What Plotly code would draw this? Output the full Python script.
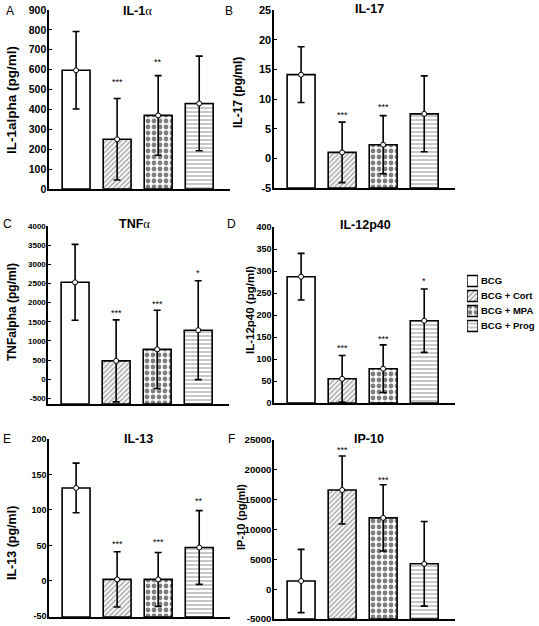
import plotly.graph_objects as go

W, H = 539, 626

# ---------------- data ----------------
categories = ["BCG", "BCG + Cort", "BCG + MPA", "BCG + Prog"]

il1a_mean = [597, 250, 370, 430]
il1a_sd = [195, 205, 200, 238]
il1a_stars = ["", "***", "**", ""]
il1a_star_y = [None, 548, 650, None]

il17_mean = [14.1, 1.0, 2.3, 7.5]
il17_sd = [4.7, 5.1, 4.9, 6.4]
il17_stars = ["", "***", "***", ""]
il17_star_y = [None, 7.7, 9.0, None]

tnfa_mean = [2530, 480, 780, 1280]
tnfa_sd = [990, 1070, 1020, 1290]
tnfa_stars = ["", "***", "***", "*"]
tnfa_star_y = [None, 1774, 2025, 2813]

il12_mean = [287, 55, 78, 187]
il12_sd = [53, 53, 54, 72]
il12_stars = ["", "***", "***", "*"]
il12_star_y = [None, 130, 151, 282]

il13_mean = [131, 2, 2, 47]
il13_sd = [35, 39, 38, 52]
il13_stars = ["", "***", "***", "**"]
il13_star_y = [None, 55, 58, 116]

ip10_mean = [1370, 16620, 11950, 4250]
ip10_sd = [5300, 5700, 5550, 7100]
ip10_stars = ["", "***", "***", ""]
ip10_star_y = [None, 23600, 18575, None]

il1a_ticks = list(range(0, 901, 100))
il17_ticks = list(range(-5, 26, 5))
tnfa_ticks = list(range(-500, 4001, 500))
il12_ticks = list(range(0, 401, 50))
il13_ticks = list(range(-50, 201, 50))
ip10_ticks = list(range(-5000, 25001, 5000))

titles = ["IL-1<span style='font-family:Liberation Serif;font-weight:normal'>α</span>", "IL-17",
          "TNF<span style='font-family:Liberation Serif;font-weight:normal'>α</span>", "IL-12p40", "IL-13", "IP-10"]
ytitles = ["IL-1alpha (pg/ml)", "IL-17 (pg/ml)", "TNFalpha (pg/ml)", "IL-12p40 (pg/ml)",
           "IL-13 (pg/ml)", "IP-10 (pg/ml)"]
letters = ["A", "B", "C", "D", "E", "F"]

FONT = "Liberation Sans, Arial, Helvetica, sans-serif"

# ---------------- layout (pixels) ----------------
panels = [
    dict(mean=il1a_mean, sd=il1a_sd, stars=il1a_stars, sy=il1a_star_y, tv=il1a_ticks,
         x0=49, x1=230, yt=10, yb=189, rng=[0, 900],
         tf=10.5, af=13.5, ax=12, ay=100, tx=137, ty=11, lx=10, ly=11),
    dict(mean=il17_mean, sd=il17_sd, stars=il17_stars, sy=il17_star_y, tv=il17_ticks,
         x0=274, x1=455, yt=10, yb=188, rng=[-5, 25],
         tf=11, af=12, ax=238, ay=93, tx=369, ty=9, lx=229, ly=11),
    dict(mean=tnfa_mean, sd=tnfa_sd, stars=tnfa_stars, sy=tnfa_star_y, tv=tnfa_ticks,
         x0=48, x1=229, yt=226, yb=404, rng=[-646, 4000],
         tf=8, af=12, ax=12, ay=312, tx=134, ty=224, lx=7, ly=224),
    dict(mean=il12_mean, sd=il12_sd, stars=il12_stars, sy=il12_star_y, tv=il12_ticks,
         x0=274, x1=455, yt=227, yb=403, rng=[0, 400],
         tf=9, af=11.5, ax=250, ay=310, tx=365, ty=225, lx=231, ly=224),
    dict(mean=il13_mean, sd=il13_sd, stars=il13_stars, sy=il13_star_y, tv=il13_ticks,
         x0=49, x1=230, yt=439, yb=617, rng=[-51, 200],
         tf=9, af=12.5, ax=12, ay=543, tx=138, ty=439, lx=7, ly=439),
    dict(mean=ip10_mean, sd=ip10_sd, stars=ip10_stars, sy=ip10_star_y, tv=ip10_ticks,
         x0=274, x1=455, yt=440, yb=619, rng=[-5000, 25000],
         tf=9.7, af=11, ax=241, ay=517, tx=369, ty=439, lx=231, ly=439),
]

bar_styles = [
    dict(color="white"),
    dict(color="white", pattern=dict(shape="/", fgcolor="#222222", bgcolor="white",
                                     size=3.5, solidity=0.35, fillmode="overlay")),
    dict(color="white", pattern=dict(shape=".", fgcolor="black", bgcolor="white",
                                     size=6, solidity=0.5, fillmode="overlay")),
    dict(color="white", pattern=dict(shape="-", fgcolor="#444444", bgcolor="white",
                                     size=4, solidity=0.3, fillmode="overlay")),
]


def px_x(p):
    return p / W


def px_y(p):
    return 1 - p / H


fig = go.Figure()
annotations = []
layout = dict(width=W, height=H, margin=dict(l=0, r=0, t=0, b=0, pad=0, autoexpand=False),
              paper_bgcolor="white", plot_bgcolor="white", showlegend=False,
              font=dict(family=FONT, color="black"), bargap=0)

for i, p in enumerate(panels):
    n = i + 1
    xa = "x" if n == 1 else f"x{n}"
    ya = "y" if n == 1 else f"y{n}"
    ymin = p["rng"][0]
    for k, cat in enumerate(categories):
        mk = dict(bar_styles[k])
        mk["line"] = dict(color="black", width=1.6)
        fig.add_trace(go.Bar(x=[cat], y=[p["mean"][k] - ymin], base=ymin, width=0.68,
                             marker=mk, xaxis=xa, yaxis=ya, name=cat))
    fig.add_trace(go.Scatter(x=categories, y=p["mean"], mode="markers", xaxis=xa, yaxis=ya,
                             marker=dict(symbol="circle", size=5, color="white",
                                         line=dict(color="black", width=1)),
                             error_y=dict(type="data", array=p["sd"], symmetric=True,
                                          color="black", thickness=1.6, width=3.5)))
    layout[f"xaxis{'' if n == 1 else n}"] = dict(
        domain=[px_x(p["x0"]), px_x(p["x1"])], anchor=ya, range=[-0.66, 3.75],
        showline=True, linecolor="black", linewidth=1.6, ticks="", showticklabels=False,
        showgrid=False, zeroline=False, fixedrange=True, automargin=False)
    layout[f"yaxis{'' if n == 1 else n}"] = dict(
        domain=[px_y(p["yb"]), px_y(p["yt"])], anchor=xa, range=p["rng"],
        tickvals=p["tv"], ticktext=[str(v) for v in p["tv"]],
        showline=True, linecolor="black", linewidth=1.6, ticks="inside", ticklen=3,
        tickwidth=1, tickcolor="black", showgrid=False, zeroline=False,
        tickfont=dict(size=p["tf"], weight="bold", family=FONT, color="black"),
        ticklabelstandoff=-1, fixedrange=True, automargin=False)
    # stars
    for k, cat in enumerate(categories):
        if p["stars"][k]:
            annotations.append(dict(x=cat, y=p["sy"][k], xref=xa, yref=ya, text=p["stars"][k],
                                    showarrow=False, yanchor="middle", yshift=-2,
                                    font=dict(size=9, family=FONT, color="black")))
    # panel title
    annotations.append(dict(x=px_x(p["tx"]), y=px_y(p["ty"]), xref="paper", yref="paper",
                            text=titles[i], showarrow=False, xanchor="center", yanchor="middle",
                            font=dict(size=12.5, weight="bold", family=FONT, color="black")))
    # panel letter
    annotations.append(dict(x=px_x(p["lx"]), y=px_y(p["ly"]), xref="paper", yref="paper",
                            text=letters[i], showarrow=False, xanchor="center", yanchor="middle",
                            font=dict(size=12, family=FONT, color="black")))
    # y-axis title
    annotations.append(dict(x=px_x(p["ax"]), y=px_y(p["ay"]), xref="paper", yref="paper",
                            text=ytitles[i], showarrow=False, textangle=-90,
                            xanchor="center", yanchor="middle",
                            font=dict(size=p["af"], weight="bold", family=FONT, color="black")))

# ---------------- legend (swatches drawn as tiny bars) ----------------
for k, cat in enumerate(categories):
    mk = dict(bar_styles[k])
    mk["line"] = dict(color="black", width=1.4)
    fig.add_trace(go.Bar(y=[cat], x=[1], orientation="h", width=0.74, marker=mk,
                         xaxis="x7", yaxis="y7", name=cat))
    annotations.append(dict(x=1.0, y=cat, xref="x7", yref="y7", text=cat, showarrow=False,
                            xanchor="left", yanchor="middle", xshift=1,
                            font=dict(size=9.5, weight="bold", family=FONT, color="black")))
layout["xaxis7"] = dict(domain=[px_x(467), px_x(478)], anchor="y7", range=[0, 1],
                        visible=False, fixedrange=True, automargin=False)
layout["yaxis7"] = dict(domain=[px_y(333.5), px_y(273.5)], anchor="x7",
                        categoryorder="array", categoryarray=categories, autorange="reversed",
                        visible=False, fixedrange=True, automargin=False)

layout["annotations"] = annotations
fig.update_layout(**layout)
fig.write_html("out.html", config={"displayModeBar": False, "staticPlot": True},
               post_script="document.body.style.margin='0px';document.body.style.overflow='hidden';")
